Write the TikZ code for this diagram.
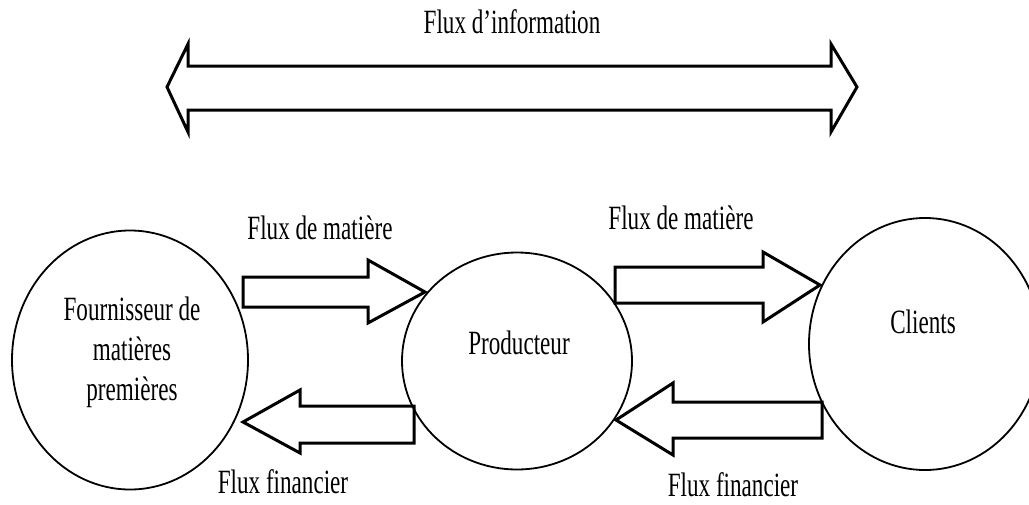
\documentclass[tikz,border=0pt]{standalone}
\usepackage{fontspec}
\setmainfont[FakeStretch=0.68]{Liberation Serif}
\usetikzlibrary{shapes.geometric}

\tikzset{
  every node/.style={font=\fontsize{34}{40}\selectfont},
  flux/.style={line width=3pt, line join=miter},
  acteur/.style={draw, ellipse, line width=1.8pt, inner sep=0pt}
}

\begin{document}
\begin{tikzpicture}[x=1pt, y=-1pt]
    \useasboundingbox (0,0) rectangle (1029,504);

    % Flux d'information
    \node (info) at (512,22) {Flux d'information};
    \draw[flux] (167,87) -- (188,44) -- (188,66) -- (831,66) -- (831,44) -- (857,87)
        -- (831,132) -- (831,110) -- (188,110) -- (188,132) -- cycle;

    % Acteurs
    \node[acteur, minimum width=236pt, minimum height=259pt] (fournisseur) at (130,360) {};
    \node[align=center] (fournisseurtxt) at (132,352) {Fournisseur de\\matières\\premières};
    \node[acteur, minimum width=230pt, minimum height=217pt] (producteur) at (517,361) {};
    \node (producteurtxt) at (519,343) {Producteur};
    \node[acteur, minimum width=232pt, minimum height=252pt] (clients) at (925,344) {};
    \node (clientstxt) at (923,322) {Clients};

    % Flux de matiere
    \draw[flux] (243,277) -- (368,277) -- (368,260) -- (425,292) -- (368,323) -- (368,307) -- (243,307) -- cycle;
    \node (matiere1) at (320,228) {Flux de matière};
    \draw[flux] (615,267) -- (763,267) -- (763,252) -- (820,285) -- (763,322) -- (763,303) -- (615,303) -- cycle;
    \node (matiere2) at (681,218) {Flux de matière};

    % Flux financier
    \draw[flux] (243,422) -- (300,390) -- (300,406) -- (414,406) -- (414,443) -- (300,443) -- (300,453) -- cycle;
    \node (financier1) at (283,482) {Flux financier};
    \draw[flux] (616,420) -- (673,383) -- (673,402) -- (822,402) -- (822,438) -- (673,438) -- (673,455) -- cycle;
    \node (financier2) at (733,485) {Flux financier};
\end{tikzpicture}
\end{document}
